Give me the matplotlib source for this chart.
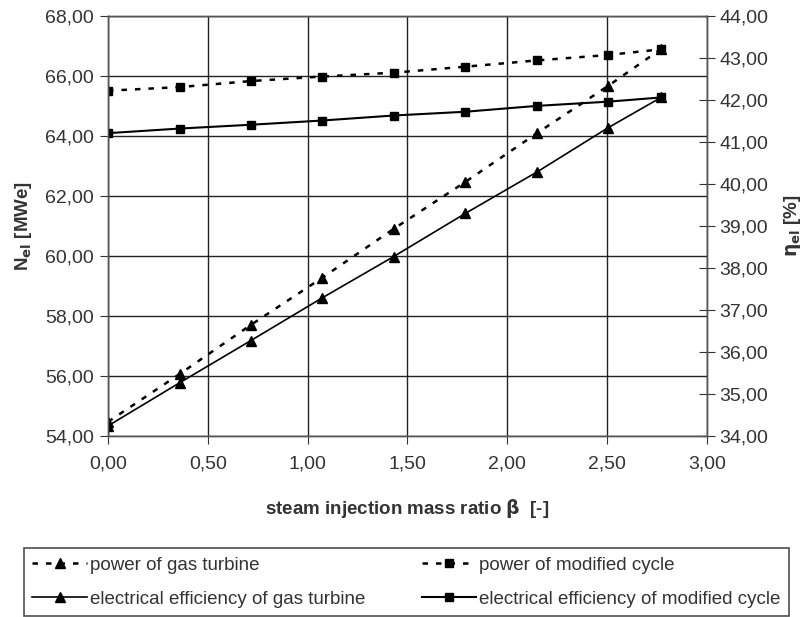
import numpy as np
import matplotlib.pyplot as plt
from matplotlib.ticker import FuncFormatter, MultipleLocator

# steam injection mass ratio
beta = [0.0, 0.36, 0.715, 1.07, 1.43, 1.79, 2.15, 2.505, 2.77]

# power [MWe] (left axis)
power_gt = [54.47, 56.07, 57.70, 59.26, 60.90, 62.47, 64.10, 65.67, 66.90]
power_mod = [65.51, 65.63, 65.83, 65.98, 66.11, 66.31, 66.52, 66.70, 66.89]

# electrical efficiency [%] (right axis)
eff_gt = [34.24, 35.27, 36.27, 37.28, 38.27, 39.30, 40.29, 41.34, 42.06]
eff_mod = [41.21, 41.32, 41.41, 41.51, 41.63, 41.72, 41.86, 41.96, 42.06]

labels = ['power of gas turbine', 'power of modified cycle',
          'electrical efficiency of gas turbine', 'electrical efficiency of modified cycle']


def comma(v, pos):
    return f'{v:.2f}'.replace('.', ',')


def main():
    plt.rcParams['font.family'] = ['Liberation Sans', 'DejaVu Sans']
    txt = '#333333'

    fig = plt.figure(figsize=(8.07, 6.17), dpi=100)
    ax = fig.add_axes([0.1338, 0.2934, 0.7423, 0.6807])
    ax2 = ax.twinx()

    dash = (0, (2.2, 3.2))
    l1, = ax.plot(beta, power_gt, color='black', linestyle=dash, linewidth=1.8,
                  marker='^', markersize=6.5)
    l2, = ax.plot(beta, power_mod, color='black', linestyle=dash, linewidth=1.8,
                  marker='s', markersize=6)
    l3, = ax2.plot(beta, eff_gt, color='black', linestyle='-', linewidth=1.2,
                   marker='^', markersize=6.5)
    l4, = ax2.plot(beta, eff_mod, color='black', linestyle='-', linewidth=1.5,
                   marker='s', markersize=6)

    ax.set_xlim(0, 3)
    ax.set_ylim(54, 68)
    ax2.set_ylim(34, 44)
    ax.xaxis.set_major_locator(MultipleLocator(0.5))
    ax.yaxis.set_major_locator(MultipleLocator(2))
    ax2.yaxis.set_major_locator(MultipleLocator(1))
    ax.xaxis.set_major_formatter(FuncFormatter(comma))
    ax.yaxis.set_major_formatter(FuncFormatter(comma))
    ax2.yaxis.set_major_formatter(FuncFormatter(comma))

    ax.grid(True, color='#222222', linewidth=1.0)
    ax.set_axisbelow(True)
    for a in (ax, ax2):
        for s in a.spines.values():
            s.set_color('#555555')
            s.set_linewidth(1.0)
    ax.tick_params(axis='both', direction='out', length=6, color='#333333',
                   labelsize=14, labelcolor=txt, pad=4)
    ax.tick_params(axis='x', pad=8)
    ax2.tick_params(axis='y', direction='inout', length=12, color='#333333',
                    labelsize=14, labelcolor=txt, pad=3)

    ax.set_xlabel(r'steam injection mass ratio $\mathbf{\beta}$  [-]', fontsize=13.5,
                  fontweight='bold', color=txt, labelpad=18)
    ax.set_ylabel(r'N$_{\mathbf{el}}$ [MWe]', fontsize=13.5, fontweight='bold',
                  color=txt, labelpad=8)
    ax2.set_ylabel(r'$\mathbf{\eta}_{\mathbf{el}}$ [%]', fontsize=13.5, fontweight='bold',
                   color=txt, rotation=90, labelpad=10)

    leg = fig.legend([l1, l3, l2, l4], [labels[0], labels[2], labels[1], labels[3]],
                     ncol=2, loc='lower left', bbox_to_anchor=(0.0297, 0.0016, 0.948, 0.115),
                     mode='expand', fontsize=13.5, frameon=True, fancybox=False,
                     edgecolor='#222222', handlelength=2.9, handletextpad=0.15,
                     borderpad=0.45, borderaxespad=0, labelspacing=0.9,
                     columnspacing=1.0)
    leg.get_frame().set_linewidth(1.2)
    for t in leg.get_texts():
        t.set_color(txt)

    fig.savefig('out.png', dpi=100)


if __name__ == '__main__':
    main()
